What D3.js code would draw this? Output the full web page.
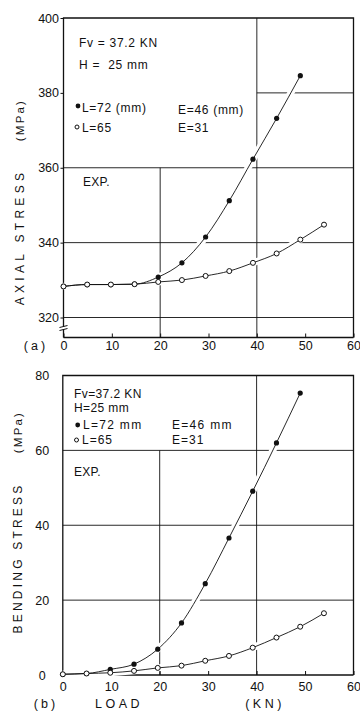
<!DOCTYPE html>
<html><head><meta charset="utf-8">
<script src="https://cdn.jsdelivr.net/npm/d3@7/dist/d3.min.js"></script>
<style>
html,body{margin:0;padding:0;background:#fff;}
svg text{font-family:"Liberation Sans",Arial,sans-serif;fill:#111;white-space:pre;}
</style></head>
<body><svg id="c" width="360" height="711"></svg>
<script>
// ---- data ----
const loads = [0, 4.9, 9.8, 14.7, 19.6, 24.5, 29.4, 34.3, 39.2, 44.1, 49.0, 53.9];
// (a) axial stress, MPa
const axialL72 = [328.3, 328.8, 328.8, 328.9, 330.8, 334.6, 341.5, 351.2, 362.3, 373.2, 384.6];
const axialL65 = [328.3, 328.8, 328.8, 328.9, 329.5, 330.0, 331.1, 332.4, 334.6, 337.1, 340.8, 344.8];
// (b) bending stress, MPa
const bendL72 = [0.2, 0.4, 1.5, 2.9, 6.9, 13.9, 24.4, 36.6, 49.1, 62.0, 75.3];
const bendL65 = [0.2, 0.4, 0.6, 1.1, 1.9, 2.5, 3.8, 5.1, 7.3, 10.0, 12.9, 16.5];
const xTicks = [0, 10, 20, 30, 40, 50, 60];
const yTicksA = [320, 340, 360, 380, 400];
const yTicksB = [0, 20, 40, 60, 80];

const svg = d3.select("#c");
const ink = "#111";

function panel(o){
  const g = svg.append("g");
  const x = o.x, y = o.y;
  const x0 = x(0), x60 = x(60), yTop = y(o.yMax), yBot = o.yBot;
  o.hGrid.forEach(h => {
    g.append("line").attr("x1", x(h.from)).attr("x2", x(h.to)).attr("y1", y(h.v)).attr("y2", y(h.v))
      .attr("stroke", ink).attr("stroke-width", 0.9);
  });
  o.vGrid.forEach(v => {
    g.append("line").attr("x1", x(v.v)).attr("x2", x(v.v)).attr("y1", v.from == null ? yBot : y(v.from)).attr("y2", y(v.to))
      .attr("stroke", ink).attr("stroke-width", 0.9);
  });
  g.append("path").attr("d", `M${x0},${yBot}V${yTop}H${x60}V${yBot}`).attr("fill","none").attr("stroke",ink).attr("stroke-width",1.3);
  g.append("line").attr("x1",x0).attr("x2",x60).attr("y1",yBot).attr("y2",yBot).attr("stroke",ink).attr("stroke-width",1.6);
  const ax = g.append("g").attr("transform",`translate(0,${yBot})`)
    .call(d3.axisBottom(x).tickValues(xTicks).tickSizeInner(-4).tickSizeOuter(0).tickPadding(o.xPad));
  ax.select(".domain").remove();
  ax.selectAll("line").attr("stroke",ink);
  ax.selectAll("text").attr("font-size",12.5).attr("font-family","Liberation Sans, Arial, sans-serif").attr("fill",ink);
  const line = d3.line().x((d,i)=>x(loads[i])).y(d=>y(d)).curve(d3.curveMonotoneX);
  [o.filled, o.open].forEach(s => {
    g.append("path").attr("d", line(s)).attr("fill","none").attr("stroke","#fff").attr("stroke-width",7);
  });
  [o.filled, o.open].forEach(s => {
    g.append("path").attr("d", line(s)).attr("fill","none").attr("stroke",ink).attr("stroke-width",0.9);
  });
  g.selectAll(null).data(o.filled).enter().append("circle")
    .attr("cx",(d,i)=>x(loads[i])).attr("cy",d=>y(d)).attr("r",2.6).attr("fill",ink);
  g.selectAll(null).data(o.open).enter().append("circle")
    .attr("cx",(d,i)=>x(loads[i])).attr("cy",d=>y(d)).attr("r",2.5).attr("fill","#fff").attr("stroke",ink).attr("stroke-width",1);
  return g;
}

// ---- panel (a) ----
const xA = d3.scaleLinear().domain([0,60]).range([63.5,353.5]);
const yA = d3.scaleLinear().domain([320,400]).range([317.5,18]);
const gA = panel({
  x:xA, y:yA, yMax:400, yBot:337.5, xPad:4,
  hGrid:[{v:320,from:0,to:60},{v:340,from:0,to:60},{v:360,from:0,to:60},{v:380,from:40,to:60}],
  vGrid:[{v:20,from:null,to:360},{v:40,from:null,to:400}],
  filled:axialL72, open:axialL65
});
const ayA = gA.append("g").attr("transform",`translate(${xA(0)},0)`)
  .call(d3.axisLeft(yA).tickValues(yTicksA).tickSizeInner(3).tickSizeOuter(0).tickPadding(1.5));
ayA.select(".domain").remove();
ayA.selectAll("line").attr("stroke",ink);
ayA.selectAll("text").attr("font-size",12.5).attr("font-family","Liberation Sans, Arial, sans-serif").attr("fill",ink);
gA.append("rect").attr("x",xA(0)-4).attr("y",326.5).attr("width",8).attr("height",3).attr("fill","#fff");
gA.append("path").attr("d",`M${xA(0)-4},327.5L${xA(0)+4},325.5M${xA(0)-4},330.5L${xA(0)+4},328.5`).attr("stroke",ink).attr("stroke-width",1);

// ---- panel (b) ----
const xB = d3.scaleLinear().domain([0,60]).range([62.8,353.5]);
const yB = d3.scaleLinear().domain([0,80]).range([675,375.5]);
const gB = panel({
  x:xB, y:yB, yMax:80, yBot:yB(0), xPad:7.5,
  hGrid:[{v:20,from:0,to:60},{v:40,from:0,to:60},{v:60,from:0,to:60}],
  vGrid:[{v:20,from:null,to:60},{v:40,from:null,to:80}],
  filled:bendL72, open:bendL65
});
const ayB = gB.append("g").attr("transform",`translate(${xB(0)},0)`)
  .call(d3.axisLeft(yB).tickValues(yTicksB).tickSize(0).tickPadding(0));
ayB.select(".domain").remove();
ayB.selectAll("text").attr("x",-20.5).attr("text-anchor","middle")
  .attr("font-size",12.5).attr("font-family","Liberation Sans, Arial, sans-serif").attr("fill",ink);

// ---- texts ----
function txt(s, x, y, opt={}){
  const t = svg.append("text").attr("x",x).attr("y",y).attr("dominant-baseline","central")
    .attr("font-size",opt.size||12).attr("letter-spacing",opt.ls||0).attr("text-anchor",opt.anchor||"start").text(s);
  if(opt.rot) t.attr("transform",`rotate(-90,${x},${y})`).attr("text-anchor","middle");
  return t;
}
txt("Fv = 37.2 KN", 79, 43, {ls:0.7});
txt("H =  25 mm", 79, 65, {ls:0.7});
svg.append("circle").attr("cx",78).attr("cy",106).attr("r",2.4).attr("fill",ink);
txt("L=72 (mm)", 82, 108, {ls:0.7});
txt("E=46 (mm)", 178, 110, {ls:0.7});
svg.append("circle").attr("cx",77).attr("cy",127).attr("r",2).attr("fill","#fff").attr("stroke",ink).attr("stroke-width",1);
txt("L=65", 82, 128, {ls:0.7});
txt("E=31", 178, 128, {ls:0.7});
txt("EXP.", 83, 182, {ls:0.3});
txt("AXIAL STRESS", 20, 237, {rot:true, ls:4.3});
txt("(MPa)", 20, 120, {rot:true, ls:2.2, size:11.5});
txt("(a)", 36, 346, {anchor:"middle", ls:3, size:12.5});

txt("Fv=37.2 KN", 74, 394, {ls:0.4});
txt("H=25 mm", 74, 408, {ls:0.4});
svg.append("circle").attr("cx",77.7).attr("cy",425).attr("r",2.4).attr("fill",ink);
txt("L=72 mm", 83, 425, {ls:1.3});
txt("E=46 mm", 172, 425, {ls:1.3});
svg.append("circle").attr("cx",76.5).attr("cy",440).attr("r",2).attr("fill","#fff").attr("stroke",ink).attr("stroke-width",1);
txt("L=65", 82, 440, {ls:1});
txt("E=31", 172, 440, {ls:1});
txt("EXP.", 74, 472, {ls:0.3});
txt("BENDING STRESS", 18, 558, {rot:true, ls:3.2});
txt("(MPa)", 18, 432, {rot:true, ls:2.2, size:11.5});
txt("(b)", 46, 704, {anchor:"middle", ls:3, size:12.5});
txt("LOAD", 119, 704, {anchor:"middle", ls:3.5, size:12.5});
txt("(KN)", 265, 704, {anchor:"middle", ls:3.5, size:12.5});
</script></body></html>
